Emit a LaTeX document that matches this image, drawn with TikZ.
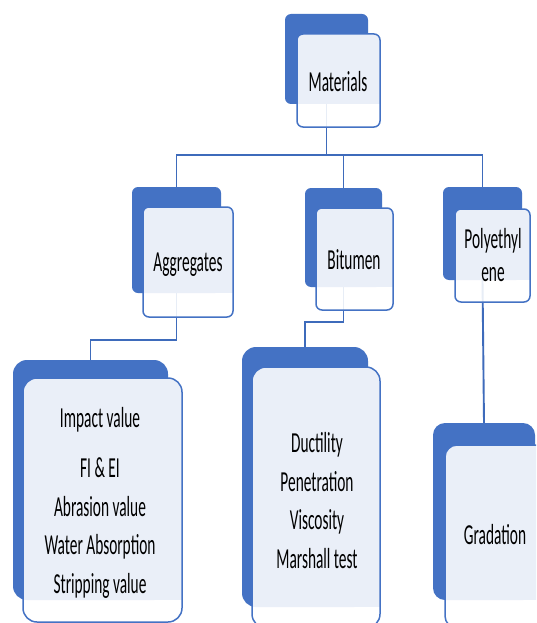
\documentclass[tikz,border=0pt]{standalone}
\usepackage{fontspec}
\setmainfont{Carlito}[FakeStretch=0.53]
\usetikzlibrary{fit,backgrounds}
\definecolor{accent}{HTML}{4472C4}
\definecolor{paleblue}{HTML}{EAEFF8}
\definecolor{linkblue}{HTML}{3E6BBB}
\tikzset{
  backbox/.style={fill=accent, draw=none, inner sep=0pt, outer sep=0pt},
  framebox/.style={inner sep=0pt, outer sep=0pt},
  link/.style={draw=linkblue, line width=1.9pt},
  label/.style={text=black, align=center, inner sep=0pt,
                font=\fontsize{29}{38.5}\selectfont},
}
% #1 name, #2/#3 corners of the back tile, #4/#5 corners of the front card, #6 radius
\newcommand\tierbox[6]{%
  \node[backbox, rounded corners=#6, fit={(#2) (#3)}] (#1-back) {};
  \node[framebox, fit={(#4) (#5)}] (#1) {};
  \begin{scope}
    \clip[rounded corners=#6] (#1.north west) rectangle (#1.south east);
    \fill[paleblue] (#1.north west) rectangle (#1.east |- #1-back.south);
    \fill[white, opacity=0.88] (#1.west |- #1-back.south) rectangle (#1.south east);
  \end{scope}
  \draw[accent, line width=1.5pt, rounded corners=#6]
    (#1.north west) rectangle (#1.south east);
}
\begin{document}
\begin{tikzpicture}[x=1pt, y=-1pt]
  \useasboundingbox (0,0) rectangle (536,623);
  \clip (0,0) rectangle (536,623);

  % cards
  \tierbox{mat}{285,14}{368,104}{297,34}{380,127}{6pt}
  \tierbox{agg}{132,187}{221,293}{143,207}{233,317}{6pt}
  \tierbox{bit}{305,188}{382,287}{316,208}{393,310}{6pt}
  \tierbox{poly}{443,187}{522,280}{455,209}{530,302}{6pt}
  \tierbox{aggt}{13,360}{168,600}{23,378}{182,622}{14pt}
  \tierbox{bitt}{242,347}{368,607}{252,367}{380,628}{14pt}
  \tierbox{grad}{433,423}{535,600}{445,445}{548,628}{12pt}

  % labels (base anchor sits on the last line)
  \node[label, anchor=base] (tmat)  at (338,92)  {Materials};
  \node[label, anchor=base] (tagg)  at (188,271) {Aggregates};
  \node[label, anchor=base] (tbit)  at (354,269) {Bitumen};
  \node[label, anchor=base, font=\fontsize{29}{33}\selectfont]
        (tpoly) at (493,281) {Polyethyl\\ene};
  \node[label, anchor=base] (tgrad) at (495,544) {Gradation};
  \node[label, anchor=base] (taggt) at (100,593)
        {Impact value\\[11.5pt]FI \& EI\\Abrasion value\\Water Absorption\\Stripping value};
  \node[label, anchor=base] (tbitt) at (317,568)
        {Ductility\\Penetration\\Viscosity\\Marshall test};

  % page and connectors, kept behind the cards
  \begin{pgfonlayer}{background}
    \fill[white] (0,0) rectangle (536,623);
    \coordinate (bus) at (0,155);
    \coordinate (aggbend) at (0,340);
    \coordinate (bitbend) at (0,322);
    \draw[link] (mat-back.south) -- (mat-back.south |- bus);
    \draw[link] (agg-back.north) -- (agg-back.north |- bus)
                -- (poly-back.north |- bus) -- (poly-back.north);
    \draw[link] (bit-back.north) -- (bit-back.north |- bus);
    \draw[link] (agg-back.south) -- (agg-back.south |- aggbend) -| (aggt-back.north);
    \draw[link] (bit-back.south) -- (bit-back.south |- bitbend) -| (bitt-back.north);
    \draw[link] (poly-back.south) -- (grad-back.north);
  \end{pgfonlayer}
\end{tikzpicture}
\end{document}
